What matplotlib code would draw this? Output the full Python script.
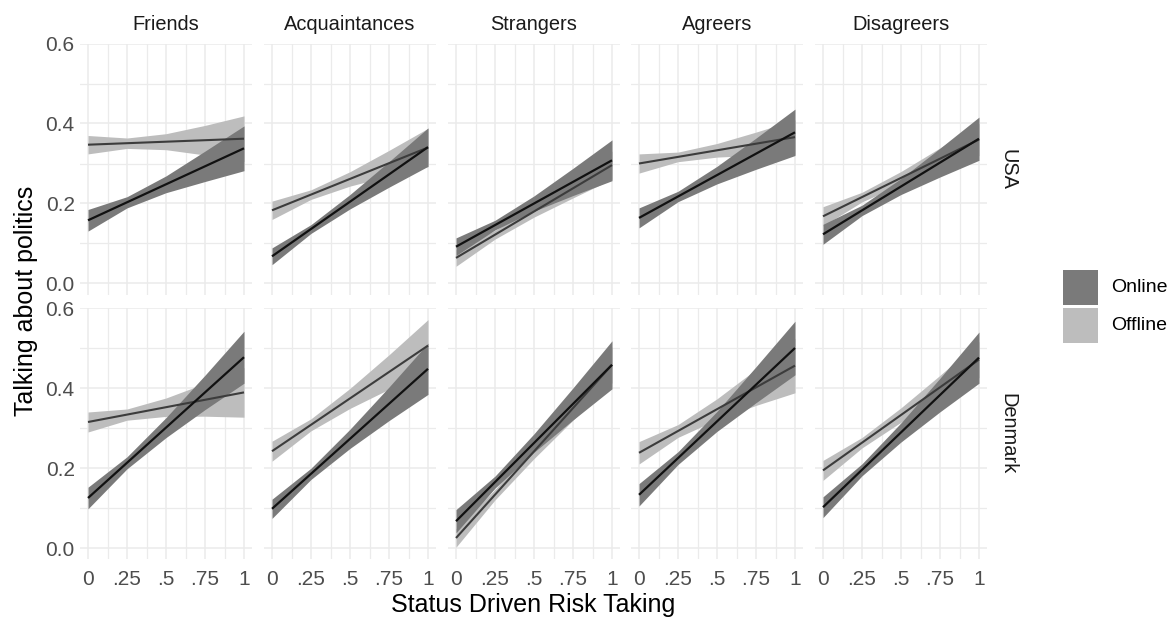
import matplotlib
matplotlib.use("Agg")
import matplotlib.pyplot as plt
import numpy as np
from matplotlib.patches import Rectangle

plt.rcParams['font.family'] = ['Liberation Sans', 'DejaVu Sans']

# ---------------- data ----------------
targets = ["Friends", "Acquaintances", "Strangers", "Agreers", "Disagreers"]
countries = ["USA", "Denmark"]
x_grid = [0, 0.25, 0.5, 0.75, 1]
x_ticks = [0, 0.25, 0.5, 0.75, 1]
x_tick_labels = ["0", ".25", ".5", ".75", "1"]
y_ticks = [0.0, 0.2, 0.4, 0.6]
y_tick_labels = ["0.0", "0.2", "0.4", "0.6"]

# fitted line endpoints (value at x=0, value at x=1)
usa_online_ends = [(0.158, 0.338), (0.068, 0.341), (0.092, 0.308), (0.164, 0.378), (0.123, 0.362)]
usa_offline_ends = [(0.347, 0.362), (0.183, 0.340), (0.064, 0.296), (0.300, 0.366), (0.168, 0.360)]
dk_online_ends = [(0.125, 0.477), (0.098, 0.448), (0.067, 0.458), (0.133, 0.500), (0.102, 0.476)]
dk_offline_ends = [(0.315, 0.389), (0.242, 0.506), (0.025, 0.458), (0.238, 0.456), (0.194, 0.471)]

# confidence band half-widths at x_grid
usa_online_hw = [
    [0.027, 0.014, 0.021, 0.038, 0.056],
    [0.021, 0.011, 0.018, 0.032, 0.048],
    [0.022, 0.012, 0.019, 0.034, 0.051],
    [0.025, 0.013, 0.022, 0.039, 0.058],
    [0.025, 0.013, 0.020, 0.036, 0.054],
]
usa_offline_hw = [
    [0.023, 0.013, 0.020, 0.037, 0.057],
    [0.023, 0.012, 0.018, 0.032, 0.048],
    [0.021, 0.011, 0.014, 0.024, 0.035],
    [0.024, 0.012, 0.017, 0.029, 0.043],
    [0.024, 0.012, 0.016, 0.027, 0.040],
]
dk_online_hw = [
    [0.027, 0.015, 0.025, 0.043, 0.065],
    [0.024, 0.014, 0.024, 0.042, 0.064],
    [0.029, 0.015, 0.023, 0.040, 0.060],
    [0.028, 0.016, 0.025, 0.045, 0.067],
    [0.026, 0.015, 0.024, 0.042, 0.064],
]
dk_offline_hw = [
    [0.025, 0.014, 0.023, 0.041, 0.062],
    [0.025, 0.015, 0.025, 0.043, 0.065],
    [0.023, 0.013, 0.018, 0.030, 0.045],
    [0.028, 0.016, 0.026, 0.045, 0.068],
    [0.025, 0.013, 0.018, 0.030, 0.045],
]

online_ends = [usa_online_ends, dk_online_ends]
offline_ends = [usa_offline_ends, dk_offline_ends]
online_hw = [usa_online_hw, dk_online_hw]
offline_hw = [usa_offline_hw, dk_offline_hw]

# ---------------- style ----------------
W, H = 1174, 617
fig = plt.figure(figsize=(W / 100, H / 100), dpi=100)

ON_FILL = "#7a7a7a"
OFF_FILL = "#bdbdbd"
ON_LINE = "#111111"
OFF_LINE = "#3c3c3c"
GRID = "#ebebeb"
TICK_COL = "#4d4d4d"
TICK_FS = 15
STRIP_FS = 14.4
TITLE_FS = 18

x0_px = [88, 272, 456, 639, 823]
unit_px = 156
row_top_px = [43.5, 308.0]
yunit_px = 400
xlim = (-0.05, 1.05)
ylim = (-0.028, 0.6)

for r in range(2):
    for c in range(5):
        left = x0_px[c] + xlim[0] * unit_px
        width = (xlim[1] - xlim[0]) * unit_px
        height = (ylim[1] - ylim[0]) * yunit_px
        top = row_top_px[r]
        ax = fig.add_axes([left / W, 1 - (top + height) / H, width / W, height / H])
        ax.set_xlim(*xlim)
        ax.set_ylim(*ylim)
        for s in ax.spines.values():
            s.set_visible(False)
        ax.set_xticks(x_ticks)
        ax.set_xticks([0.125, 0.375, 0.625, 0.875], minor=True)
        ax.set_yticks(y_ticks)
        ax.set_yticks([0.1, 0.3, 0.5], minor=True)
        ax.grid(True, which='major', color=GRID, lw=1.1, zorder=0)
        ax.grid(True, which='minor', color=GRID, lw=0.9, zorder=0)
        ax.set_axisbelow(True)
        ax.tick_params(which='both', length=0, colors=TICK_COL, labelsize=TICK_FS)
        ax.tick_params(axis='x', pad=8)
        ax.tick_params(axis='y', pad=4)
        if c == 0:
            ax.set_yticklabels(y_tick_labels)
        else:
            ax.set_yticklabels([])
        if r == 1:
            ax.set_xticklabels(x_tick_labels)
        else:
            ax.set_xticklabels([])

        xs = np.array(x_grid)
        # offline
        a, b = offline_ends[r][c]
        ym = a + (b - a) * xs
        hw = np.array(offline_hw[r][c])
        ax.fill_between(xs, ym - hw, ym + hw, color=OFF_FILL, lw=0, zorder=2)
        # online
        a2, b2 = online_ends[r][c]
        ym2 = a2 + (b2 - a2) * xs
        hw2 = np.array(online_hw[r][c])
        ax.fill_between(xs, ym2 - hw2, ym2 + hw2, color=ON_FILL, lw=0, zorder=3)
        ax.plot([0, 1], [a, b], color=OFF_LINE, lw=1.5, zorder=4, solid_capstyle='butt')
        ax.plot([0, 1], [a2, b2], color=ON_LINE, lw=1.6, zorder=5, solid_capstyle='butt')

        if r == 0:
            ax.text(0.5, 0.6 + 19 / yunit_px, targets[c], ha='center', va='center',
                    fontsize=STRIP_FS, color="#1a1a1a", clip_on=False)
        if c == 4:
            ax.text(1.05 + 12 / unit_px, (ylim[0] + ylim[1]) / 2, countries[r], rotation=-90,
                    ha='left', va='center', fontsize=STRIP_FS, color="#1a1a1a", clip_on=False)

# axis titles
fig.text(533 / W, 1 - 605 / H, "Status Driven Risk Taking", ha='center', va='center',
         fontsize=TITLE_FS, color='black')
fig.text(26 / W, 1 - 301 / H, "Talking about politics", ha='center', va='center',
         rotation=90, fontsize=TITLE_FS, color='black')

# legend
leg_items = [("Online", ON_FILL), ("Offline", OFF_FILL)]
for i, (lab, col) in enumerate(leg_items):
    ytop = 270 + i * 38
    fig.patches.append(Rectangle((1063 / W, 1 - (ytop + 35) / H), 35 / W, 35 / H,
                                 transform=fig.transFigure, color=col, lw=0))
    fig.text(1111 / W, 1 - (ytop + 18) / H, lab, ha='left', va='center', fontsize=14,
             color='black')

fig.savefig("out.png", dpi=100, facecolor='white')
